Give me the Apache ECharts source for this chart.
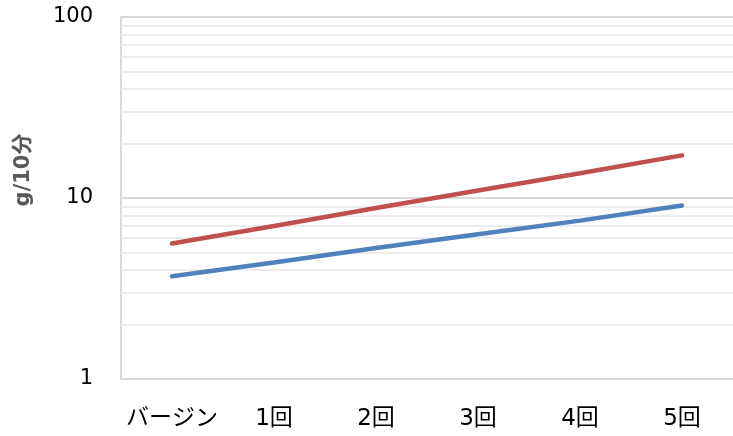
<!DOCTYPE html>
<html>
<head>
<meta charset="utf-8">
<script src="https://cdn.jsdelivr.net/npm/echarts@6/dist/echarts.min.js"></script>
<style>
  html, body { margin: 0; padding: 0; background: #fff; }
  #main { width: 733px; height: 436px; }
</style>
</head>
<body>
<div id="main"></div>
<script>
var categories = ['バージン', '1回', '2回', '3回', '4回', '5回'];
var blueValues = [3.7, 4.4, 5.3, 6.3, 7.5, 9.1];
var redValues = [5.6, 7.0, 8.8, 11.0, 13.7, 17.2];
var minorGrid = [2, 3, 4, 5, 6, 7, 8, 9, 20, 30, 40, 50, 60, 70, 80, 90];

var myChart = echarts.init(document.getElementById('main'));

var fontNum = '"DejaVu Sans", "Noto Sans CJK JP", sans-serif';

var option = {
  animation: false,
  grid: { left: 121, right: -5, top: 17, bottom: 57 },
  xAxis: {
    type: 'category',
    data: categories,
    boundaryGap: true,
    axisLine: { lineStyle: { color: '#d9d9d9', width: 2 } },
    axisTick: { show: false },
    axisLabel: { color: '#000', fontSize: 23, margin: 29, interval: 0, fontFamily: fontNum }
  },
  yAxis: {
    type: 'log',
    logBase: 10,
    min: 1,
    max: 100,
    axisLine: { show: true, lineStyle: { color: '#d9d9d9', width: 2 } },
    axisTick: { show: false },
    splitLine: { show: true, lineStyle: { color: '#d9d9d9', width: 2 } },
    axisLabel: { color: '#000', fontSize: 21, margin: 28, fontFamily: fontNum }
  },
  graphic: [{
    type: 'text',
    x: 24,
    y: 170,
    rotation: Math.PI / 2,
    style: {
      text: 'g/10分',
      fill: '#595959',
      font: 'bold 21px "DejaVu Sans", "Noto Sans CJK JP", sans-serif',
      align: 'center',
      verticalAlign: 'middle'
    }
  }],
  series: [
    {
      type: 'line',
      data: blueValues,
      showSymbol: false,
      lineStyle: { color: '#4f81bd', width: 4.5, cap: 'round' },
      itemStyle: { color: '#4f81bd' },
      z: 3,
      markLine: {
        silent: true,
        symbol: ['none', 'none'],
        label: { show: false },
        lineStyle: { color: '#ececec', width: 2, type: 'solid' },
        data: minorGrid.map(function (v) { return { yAxis: v }; }),
        z: 1
      }
    },
    {
      type: 'line',
      data: redValues,
      showSymbol: false,
      lineStyle: { color: '#c0504d', width: 4.5, cap: 'round' },
      itemStyle: { color: '#c0504d' },
      z: 3
    }
  ]
};

myChart.setOption(option);
</script>
</body>
</html>
